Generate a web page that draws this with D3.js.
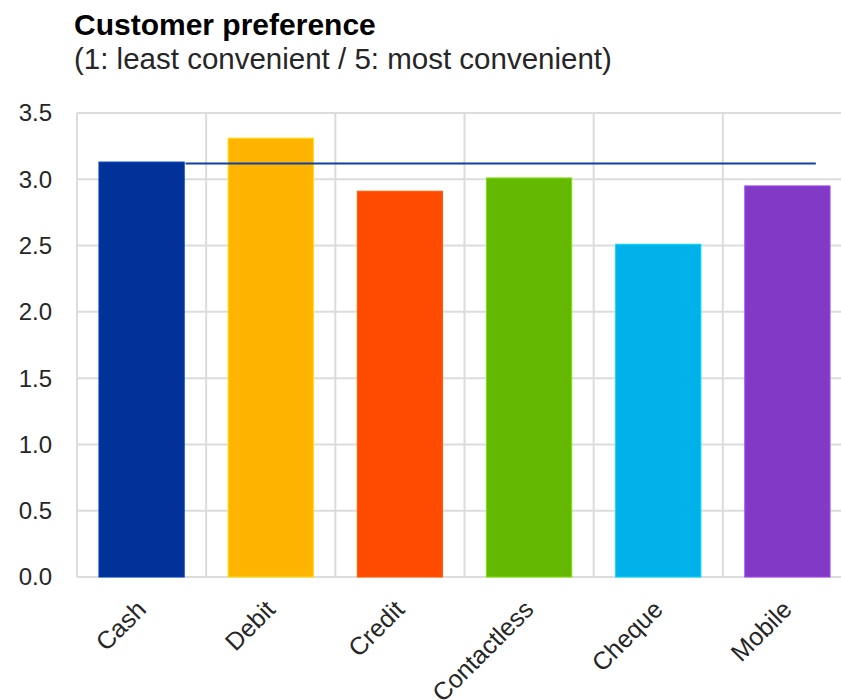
<!DOCTYPE html>
<html>
<head>
<meta charset="utf-8">
<script src="https://cdn.jsdelivr.net/npm/d3@7"></script>
<style>
  body { margin: 0; background: #fff; }
  svg { display: block; font-family: Arial, "Liberation Sans", sans-serif; }
</style>
</head>
<body>
<div id="chart"></div>
<script>
//Chart data
var categories = ["Cash", "Debit", "Credit", "Contactless", "Cheque", "Mobile"];
var values = [3.13, 3.31, 2.91, 3.01, 2.51, 2.95];
var barColors = ["#003299", "#FFB400", "#FF4B00", "#65B800", "#00B1EA", "#8139C6"];
var averageValue = [3.12];
var yTicks = [0, 0.5, 1, 1.5, 2, 2.5, 3, 3.5];

//Layout
var width = 841, height = 700;
var plot = { left: 77, top: 113, right: 852, bottom: 577 };

var svg = d3.select("#chart").append("svg")
    .attr("width", width)
    .attr("height", height);

//Scales
var x = d3.scaleBand()
    .domain(categories)
    .range([plot.left, plot.right])
    .paddingInner(0.34)
    .paddingOuter(0.17);

var y = d3.scaleLinear()
    .domain([0, 3.5])
    .range([plot.bottom, plot.top]);

var step = x.step();

//Horizontal gridlines
svg.append("g")
    .selectAll("line")
    .data(yTicks)
    .join("line")
        .attr("x1", plot.left)
        .attr("x2", plot.right)
        .attr("y1", d => y(d))
        .attr("y2", d => y(d))
        .attr("stroke", "#dcdcdc")
        .attr("stroke-width", 2);

//Vertical gridlines on the category boundaries
svg.append("g")
    .selectAll("line")
    .data(categories)
    .join("line")
        .attr("x1", d => x(d) - step * 0.17)
        .attr("x2", d => x(d) - step * 0.17)
        .attr("y1", plot.top)
        .attr("y2", plot.bottom)
        .attr("stroke", "#dcdcdc")
        .attr("stroke-width", 2);

//Bars
svg.append("g")
    .selectAll("rect")
    .data(categories)
    .join("rect")
        .attr("x", d => x(d))
        .attr("width", x.bandwidth())
        .attr("y", (d, i) => y(values[i]))
        .attr("height", (d, i) => y(0) - y(values[i]))
        .attr("fill", (d, i) => barColors[i])
        .attr("stroke", (d, i) => d3.color(barColors[i]).brighter(0.6))
        .attr("stroke-width", 1);

//Average line
var lineStart = x("Cash") + x.bandwidth() / 2 + step * 0.34;
var lineEnd = x("Mobile") + x.bandwidth() / 2 + step * 0.22;
svg.append("g")
    .selectAll("line")
    .data(averageValue)
    .join("line")
        .attr("x1", lineStart)
        .attr("x2", lineEnd)
        .attr("y1", d => y(d))
        .attr("y2", d => y(d))
        .attr("stroke", "#0f3fa8")
        .attr("stroke-width", 2);

//Y axis labels
svg.append("g")
    .selectAll("text")
    .data(yTicks)
    .join("text")
        .attr("x", 52)
        .attr("y", d => y(d))
        .attr("dy", "0.35em")
        .attr("text-anchor", "end")
        .attr("font-size", 24)
        .attr("fill", "#262626")
        .text(d => d.toFixed(1));

//X axis labels, rotated
svg.append("g")
    .selectAll("text")
    .data(categories)
    .join("text")
        .attr("text-anchor", "end")
        .attr("font-size", 25)
        .attr("fill", "#262626")
        .attr("transform", d => `translate(${x(d) + x.bandwidth() / 2 + 6}, ${plot.bottom + 34}) rotate(-45)`)
        .text(d => d);

//Title
svg.append("text")
    .attr("x", 74)
    .attr("y", 35)
    .attr("font-size", 30)
    .attr("font-weight", "bold")
    .attr("fill", "#000")
    .text("Customer preference");

svg.append("text")
    .attr("x", 74)
    .attr("y", 69)
    .attr("font-size", 29.5)
    .attr("fill", "#262626")
    .text("(1: least convenient / 5: most convenient)");
</script>
</body>
</html>
